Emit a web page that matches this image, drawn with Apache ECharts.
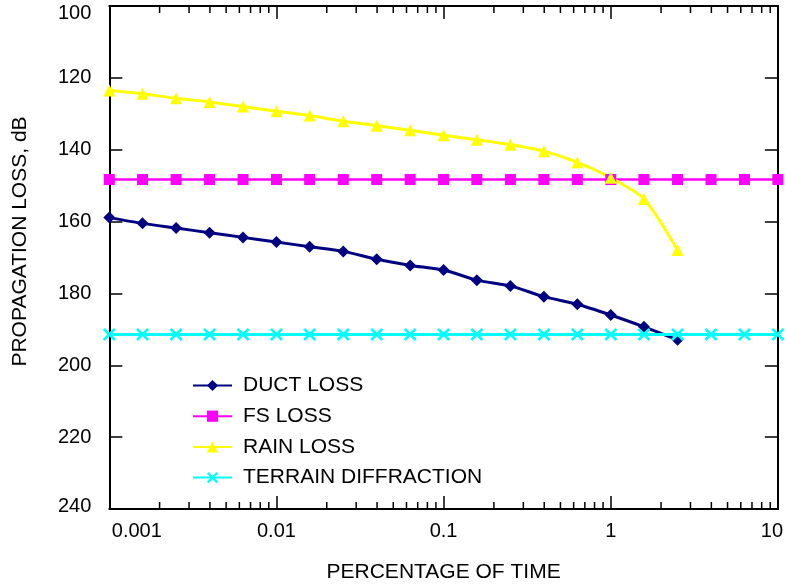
<!DOCTYPE html>
<html><head><meta charset="utf-8">
<script src="https://cdn.jsdelivr.net/npm/echarts@6/dist/echarts.min.js"></script>
<style>html,body{margin:0;padding:0;background:#fff}#c{width:786px;height:588px}</style>
</head><body><div id="c"></div>
<script>
// Percentage of time (x, log scale)
const xValues = [0.001, 0.00158, 0.00251, 0.00398, 0.00631, 0.01, 0.0158, 0.0251, 0.0398, 0.0631,
                 0.1, 0.158, 0.251, 0.398, 0.631, 1, 1.58, 2.51, 3.98, 6.31, 10];
// Propagation loss, dB
const ductLoss = [158.9, 160.5, 161.8, 163.1, 164.4, 165.7, 167.0, 168.3, 170.5, 172.2,
                  173.5, 176.3, 177.9, 180.9, 183.0, 186.0, 189.3, 192.9];
const fsLoss = [148.3, 148.3, 148.3, 148.3, 148.3, 148.3, 148.3, 148.3, 148.3, 148.3, 148.3,
                148.3, 148.3, 148.3, 148.3, 148.3, 148.3, 148.3, 148.3, 148.3, 148.3];
const rainLoss = [123.5, 124.4, 125.7, 126.7, 128.0, 129.3, 130.5, 132.1, 133.3, 134.6,
                  136.0, 137.2, 138.6, 140.4, 143.5, 147.8, 153.7, 167.9];
const terrainDiffraction = [191.4, 191.4, 191.4, 191.4, 191.4, 191.4, 191.4, 191.4, 191.4, 191.4, 191.4,
                            191.4, 191.4, 191.4, 191.4, 191.4, 191.4, 191.4, 191.4, 191.4, 191.4];
const seriesNames = ['DUCT LOSS', 'FS LOSS', 'RAIN LOSS', 'TERRAIN DIFFRACTION'];
// Axis ticks and tick labels
const xMajorTicks = [0.001, 0.01, 0.1, 1, 10];
const xTickLabels = ['0.001', '0.01', '0.1', '1', '10'];
const xMinorTicks = [0.002, 0.003, 0.004, 0.005, 0.006, 0.007, 0.008, 0.009,
                     0.02, 0.03, 0.04, 0.05, 0.06, 0.07, 0.08, 0.09,
                     0.2, 0.3, 0.4, 0.5, 0.6, 0.7, 0.8, 0.9,
                     2, 3, 4, 5, 6, 7, 8, 9];
const yTickLabels = ['100', '120', '140', '160', '180', '200', '220', '240'];
const yMin = 100, yMax = 240;

const FONT = '"Liberation Sans", Arial, sans-serif';
const pairs = (ys) => ys.map((y, i) => [xValues[i], y]);
const xIndexOf = (v) => xMajorTicks.findIndex(t => Math.abs(Math.log10(t) - Math.log10(v)) < 1e-6);

const crossPath = 'path://M0,1.5 L1.5,0 L5,3.5 L8.5,0 L10,1.5 L6.5,5 L10,8.5 L8.5,10 L5,6.5 L1.5,10 L0,8.5 L3.5,5 Z';
const tickLine = { color: '#000', width: 1.5 };
const MINOR_LEN = 7;

const chart = echarts.init(document.getElementById('c'), null, { renderer: 'canvas' });
chart.setOption({
  backgroundColor: '#fff',
  animation: false,
  grid: { left: 109.3, right: 4.3, top: 6, bottom: 77.7, containLabel: false },
  legend: {
    orient: 'vertical', left: 192, top: 375, padding: 0,
    itemWidth: 39, itemHeight: 14, itemGap: 9.7,
    data: seriesNames,
    textStyle: { fontFamily: FONT, fontSize: 21, color: '#000', lineHeight: 21, padding: [0, 0, 0, 6] }
  },
  xAxis: [
    {
      type: 'log', logBase: 10, min: 0.001, max: 10, position: 'bottom',
      splitLine: { show: false },
      name: 'PERCENTAGE OF TIME', nameLocation: 'middle', nameGap: 53,
      nameTextStyle: { fontFamily: FONT, fontSize: 21, color: '#000' },
      axisLine: { show: true, lineStyle: { color: '#000', width: 2 } },
      axisTick: { show: true, inside: true, length: 13, lineStyle: tickLine },
      axisLabel: {
        show: true, margin: 12,
        fontFamily: FONT, fontSize: 20, color: '#000',
        formatter: (v) => {
          const i = xIndexOf(v);
          const t = i >= 0 ? xTickLabels[i] : '';
          if (i === 0) return '{a|' + t + '}';
          if (i === xTickLabels.length - 1) return '{b|' + t + '}';
          return t;
        },
        rich: {
          a: { fontFamily: FONT, fontSize: 20, color: '#000', padding: [0, 0, 0, 55] },
          b: { fontFamily: FONT, fontSize: 20, color: '#000', padding: [0, 12, 0, 0] }
        }
      }
    },
    {
      type: 'log', logBase: 10, min: 0.001, max: 10, position: 'top',
      splitLine: { show: false },
      axisLine: { show: true, lineStyle: { color: '#000', width: 2 } },
      axisTick: { show: true, inside: true, length: 13, lineStyle: tickLine },
      axisLabel: { show: false }
    }
  ],
  yAxis: [
    {
      type: 'value', inverse: true, min: yMin, max: yMax, interval: 20, position: 'left',
      name: 'PROPAGATION LOSS, dB', nameLocation: 'middle', nameGap: 79, nameRotate: 90,
      nameTextStyle: { fontFamily: FONT, fontSize: 21, color: '#000', padding: [0, 0, 0, 32] },
      splitLine: { show: false },
      axisLine: { show: true, lineStyle: { color: '#000', width: 2 } },
      axisTick: { show: true, inside: true, length: 13, lineStyle: tickLine },
      axisLabel: {
        margin: 18, fontFamily: FONT, fontSize: 20, color: '#000',
        formatter: (v, i) => {
          const t = yTickLabels[i] !== undefined ? yTickLabels[i] : String(v);
          if (i === 0) return '{t|' + t + '}';
          if (i === yTickLabels.length - 1) return '{u|' + t + '}';
          return t;
        },
        rich: {
          t: { fontFamily: FONT, fontSize: 20, color: '#000', padding: [14, 0, 0, 0] },
          u: { fontFamily: FONT, fontSize: 20, color: '#000', padding: [0, 0, 6, 0] }
        }
      }
    },
    {
      type: 'value', inverse: true, min: yMin, max: yMax, interval: 20, position: 'right',
      splitLine: { show: false },
      axisLine: { show: true, lineStyle: { color: '#000', width: 2 } },
      axisTick: { show: true, inside: true, length: 13, lineStyle: tickLine },
      axisLabel: { show: false }
    }
  ],
  series: [
    {
      // minor log ticks on the bottom and top axes, placed through the axis scales
      name: 'minorTicks', type: 'custom', xAxisIndex: 0, yAxisIndex: 0, silent: true,
      data: xMinorTicks.map(v => [v, yMin]),
      renderItem: (params, api) => {
        const v = api.value(0);
        const top = api.coord([v, yMin]);
        const bot = api.coord([v, yMax]);
        const st = { stroke: '#000', lineWidth: 1.5 };
        return {
          type: 'group', children: [
            { type: 'line', shape: { x1: bot[0], y1: bot[1], x2: bot[0], y2: bot[1] - MINOR_LEN }, style: st },
            { type: 'line', shape: { x1: top[0], y1: top[1], x2: top[0], y2: top[1] + MINOR_LEN }, style: st }
          ]
        };
      },
      z: 1
    },
    {
      name: seriesNames[0], type: 'line', xAxisIndex: 0, yAxisIndex: 0, smooth: 0.25,
      data: pairs(ductLoss), symbol: 'diamond', symbolSize: 12,
      lineStyle: { color: '#000080', width: 3 }, itemStyle: { color: '#000080' }
    },
    {
      name: seriesNames[1], type: 'line', xAxisIndex: 0, yAxisIndex: 0,
      data: pairs(fsLoss), symbol: 'rect', symbolSize: 11,
      lineStyle: { color: '#FF00FF', width: 2.5 }, itemStyle: { color: '#FF00FF' }
    },
    {
      name: seriesNames[2], type: 'line', xAxisIndex: 0, yAxisIndex: 0, smooth: 0.25,
      data: pairs(rainLoss), symbol: 'triangle', symbolSize: 12,
      lineStyle: { color: '#FFFF00', width: 3 }, itemStyle: { color: '#FFFF00' }
    },
    {
      name: seriesNames[3], type: 'line', xAxisIndex: 0, yAxisIndex: 0,
      data: pairs(terrainDiffraction), symbol: crossPath, symbolSize: 13,
      lineStyle: { color: '#00FFFF', width: 3 }, itemStyle: { color: '#00FFFF' }
    }
  ]
});
</script></body></html>
